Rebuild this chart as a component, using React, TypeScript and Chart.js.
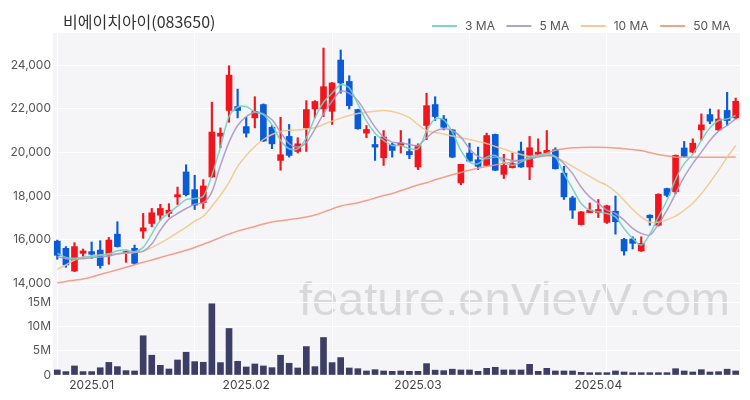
import React, { useEffect, useRef } from 'react';
import { Chart, registerables } from 'chart.js';

Chart.register(...registerables);

const chartTitle = '비에이치아이(083650)';
const watermark = 'feature.enVievV.com';

const dates = [
  '2024-12-24', '2024-12-26', '2024-12-27', '2024-12-30',
  '2025-01-02', '2025-01-03', '2025-01-06', '2025-01-07', '2025-01-08', '2025-01-09', '2025-01-10',
  '2025-01-13', '2025-01-14', '2025-01-15', '2025-01-16', '2025-01-17', '2025-01-20', '2025-01-21',
  '2025-01-22', '2025-01-23', '2025-01-24', '2025-01-31',
  '2025-02-03', '2025-02-04', '2025-02-05', '2025-02-06', '2025-02-07', '2025-02-10', '2025-02-11',
  '2025-02-12', '2025-02-13', '2025-02-14', '2025-02-17', '2025-02-18', '2025-02-19', '2025-02-20',
  '2025-02-21', '2025-02-24', '2025-02-25', '2025-02-26', '2025-02-27', '2025-02-28',
  '2025-03-03', '2025-03-04', '2025-03-05', '2025-03-06', '2025-03-07', '2025-03-10', '2025-03-11',
  '2025-03-12', '2025-03-13', '2025-03-14', '2025-03-17', '2025-03-18', '2025-03-19', '2025-03-20',
  '2025-03-21', '2025-03-24', '2025-03-25', '2025-03-26', '2025-03-27', '2025-03-28', '2025-03-31',
  '2025-04-01', '2025-04-02', '2025-04-03', '2025-04-04', '2025-04-07', '2025-04-08', '2025-04-09',
  '2025-04-10', '2025-04-11', '2025-04-14', '2025-04-15', '2025-04-16', '2025-04-17', '2025-04-18',
  '2025-04-21', '2025-04-22', '2025-04-23',
];

const opens = [
  15930, 15600, 14560, 15370, 15450, 15520, 15290, 16250, 15370, 15600,
  16390, 16740, 17120, 17200, 17960, 19100, 18290, 17700, 18870, 20740,
  21920, 22100, 21180, 21580, 22190, 21150, 19630, 20730, 20040, 21120,
  21990, 21990, 21880, 24230, 23250, 21960, 20880, 20360, 19750, 20350,
  20320, 20040, 19330, 21230, 22190, 21530, 21030, 18600, 19970, 19660,
  19400, 20820, 18990, 19300, 20060, 19330, 19910, 19970, 20120, 19050,
  17910, 16690, 17240, 17230, 16790, 17300, 16010, 16030, 15480, 17120,
  16660, 18340, 18190, 20200, 20010, 21030, 21730, 21030, 21920, 21580,
];
const highs = [
  15980, 15680, 15860, 15570, 15890, 15950, 16100, 16820, 15480, 15750,
  17200, 17430, 17620, 17650, 18410, 19430, 18950, 18750, 22300, 21120,
  23970, 22900, 21610, 22550, 22220, 21230, 21610, 21280, 20670, 22370,
  22370, 24780, 23200, 24690, 23510, 21980, 21230, 20730, 21000, 20420,
  21000, 20620, 20390, 22710, 22550, 21690, 21050, 19450, 20420, 20240,
  20880, 20840, 19910, 19970, 20470, 20730, 20620, 21000, 20210, 19360,
  17990, 17290, 17680, 17840, 17580, 18000, 16060, 16130, 16130, 17140,
  18100, 18360, 19880, 20500, 20620, 21760, 21990, 21950, 22750, 22490,
];
const lows = [
  15100, 14730, 14530, 15140, 15140, 14690, 14870, 15660, 14960, 14870,
  16060, 16590, 16890, 17040, 17610, 18000, 17380, 17430, 18850, 20210,
  21380, 21580, 20700, 21120, 20500, 20170, 19180, 19780, 19970, 20040,
  21580, 21640, 21280, 22710, 21990, 21060, 20670, 19630, 19400, 19780,
  19970, 19710, 19210, 20580, 21460, 21030, 19750, 18520, 19580, 19210,
  19380, 19160, 18800, 19280, 19310, 18750, 19860, 19950, 19230, 17840,
  16970, 16670, 17230, 17010, 16740, 16250, 15290, 15570, 15460, 16660,
  16620, 17960, 18110, 19780, 19970, 20550, 21310, 21000, 21230, 21530,
];
const closes = [
  15280, 14840, 15680, 15480, 15330, 14810, 15980, 15680, 15450, 14910,
  16540, 17230, 17430, 17350, 18060, 18060, 17580, 18460, 20930, 20880,
  23540, 21920, 20880, 21880, 20520, 20390, 19890, 19860, 20390, 21960,
  22330, 23010, 23180, 23180, 22140, 21080, 21050, 20240, 20700, 20090,
  20420, 19890, 20320, 22140, 21640, 21150, 19780, 19450, 19600, 19360,
  20770, 19180, 19400, 19480, 19330, 20210, 20010, 20090, 19250, 17960,
  17350, 17270, 17350, 17380, 17550, 16820, 15480, 15830, 15830, 17000,
  18080, 18030, 19860, 19820, 20420, 21260, 21430, 21530, 21460, 22340,
];

// volume, in millions of shares
const volumes = [
  1.04, 0.7, 1.87, 0.7, 0.7, 1.5, 2.6, 1.73, 0.9, 0.83,
  8.1, 4.08, 2.0, 1.24, 3.1, 4.7, 2.76, 2.63, 14.7, 2.56,
  9.6, 2.83, 1.66, 2.28, 1.87, 1.52, 4.08, 2.42, 1.45, 5.87,
  1.73, 7.74, 2.56, 3.6, 1.45, 1.3, 0.83, 1.1, 0.83, 0.76,
  0.83, 0.76, 0.76, 2.35, 1.0, 0.9, 1.2, 1.04, 1.04, 0.76,
  1.38, 1.59, 1.04, 1.04, 1.04, 2.2, 0.76, 1.38, 0.83, 0.83,
  0.83, 0.55, 0.48, 0.48, 0.48, 0.83, 0.62, 0.48, 0.48, 0.48,
  0.48, 0.48, 1.3, 0.83, 0.62, 1.1, 0.62, 0.69, 1.2, 0.83,
];

const ma3 = [
  15370, 15187, 15142, 15187, 15218, 15279, 15340, 15492, 15522, 15447,
  15644, 16253, 16892, 17227, 17531, 17836, 17882, 17988, 18947, 20241,
  21641, 22067, 22098, 21854, 21732, 21260, 20545, 20164, 20164, 20667,
  21580, 22295, 22706, 23102, 22950, 22219, 21428, 20880, 20545, 20317,
  20317, 20180, 20164, 20971, 21534, 21489, 20926, 20088, 19556, 19480,
  19784, 19860, 19556, 19404, 19556, 19784, 19860, 19936, 19784, 19023,
  18338, 17653, 17349, 17273, 17197, 17044, 16512, 16055, 15751, 16253,
  17044, 17805, 18764, 19480, 19906, 20545, 21123, 21458, 21534, 21686,
];
const ma5 = [
  15218, 15127, 15096, 15127, 15172, 15203, 15249, 15340, 15401, 15431,
  15462, 15796, 16436, 16938, 17197, 17425, 17623, 17684, 18186, 19404,
  20469, 21230, 21641, 21839, 21763, 21489, 20926, 20393, 20241, 20454,
  21063, 21763, 22341, 22798, 22706, 22371, 21763, 21154, 20697, 20469,
  20438, 20362, 20317, 20667, 20971, 21078, 21002, 20697, 20164, 19815,
  19708, 19784, 19708, 19632, 19632, 19693, 19784, 19845, 19815, 19480,
  19023, 18414, 17958, 17653, 17349, 17197, 16892, 16512, 16283, 16207,
  16710, 17349, 18110, 18871, 19480, 20012, 20545, 20971, 21230, 21534,
];
const ma10 = [
  14639, 14836, 15064, 15201, 15247, 15292, 15338, 15352, 15370, 15406,
  15475, 15635, 15840, 16068, 16320, 16571, 16845, 17073, 17530, 18032,
  18625, 19356, 19858, 20269, 20589, 20817, 20954, 21009, 21027, 21068,
  21137, 21274, 21433, 21570, 21685, 21776, 21835, 21881, 21913, 21867,
  21762, 21593, 21274, 21000, 20908, 20840, 20749, 20667, 20589, 20497,
  20406, 20269, 20155, 20018, 19904, 19813, 19858, 19904, 19790, 19584,
  19356, 19128, 18899, 18671, 18488, 18192, 17803, 17393, 17041, 16799,
  16799, 16913, 17073, 17347, 17667, 18100, 18625, 19173, 19767, 20315,
];
const ma50 = [
  14010, 14080, 14140, 14200, 14290, 14400, 14510, 14620, 14730, 14850,
  14960, 15070, 15180, 15290, 15400, 15510, 15640, 15790, 15940, 16100,
  16250, 16390, 16500, 16600, 16720, 16810, 16870, 16920, 16970, 17040,
  17130, 17260, 17410, 17540, 17620, 17690, 17790, 17910, 18020, 18110,
  18250, 18380, 18500, 18610, 18740, 18860, 18970, 19080, 19180, 19270,
  19350, 19420, 19500, 19570, 19640, 19730, 19830, 19960, 20100, 20170,
  20210, 20225, 20230, 20230, 20220, 20200, 20170, 20130, 20080, 19990,
  19900, 19840, 19780, 19770, 19770, 19770, 19770, 19775, 19780, 19790,
];

const priceTicks = [14000, 16000, 18000, 20000, 22000, 24000];
const volumeTicks = [0, 5, 10, 15];

const UP = '#f2151d';
const DOWN = '#0a5bd8';
const VOL = '#3d3e66';
const MA_STYLES = [
  { label: '3 MA', data: ma3, color: 'rgba(110,208,196,0.9)' },
  { label: '5 MA', data: ma5, color: 'rgba(170,150,200,0.9)' },
  { label: '10 MA', data: ma10, color: 'rgba(242,200,140,0.9)' },
  { label: '50 MA', data: ma50, color: 'rgba(244,150,128,0.9)' },
];

const FONT = 'Inter, "Noto Sans CJK KR", "Noto Sans", sans-serif';

const isUp = (i: number) => closes[i] >= opens[i];

const decorPlugin = {
  id: 'decor',
  beforeDraw(chart: any) {
    const { ctx, chartArea: a } = chart;
    ctx.save();
    ctx.fillStyle = '#f5f5f7';
    ctx.fillRect(a.left, a.top, a.right - a.left, a.bottom - a.top);
    ctx.font = '47px "Liberation Sans", Arial, sans-serif';
    ctx.fillStyle = '#d8d8d8';
    ctx.textAlign = 'right';
    ctx.textBaseline = 'alphabetic';
    ctx.fillText(watermark, a.right - 10, 315);
    ctx.restore();
  },
  afterDraw(chart: any) {
    const { ctx } = chart;
    ctx.save();
    ctx.font = '16px "Noto Sans CJK KR", sans-serif';
    ctx.fillStyle = '#333333';
    ctx.textAlign = 'left';
    ctx.textBaseline = 'middle';
    ctx.fillText(chartTitle, 63, 22);

    ctx.font = '12px ' + FONT;
    let x = 432;
    const y = 26;
    MA_STYLES.forEach((m) => {
      ctx.strokeStyle = m.color;
      ctx.lineWidth = 2;
      ctx.beginPath();
      ctx.moveTo(x, y);
      ctx.lineTo(x + 25, y);
      ctx.stroke();
      ctx.fillStyle = '#555555';
      ctx.fillText(m.label, x + 33, y);
      x = x + 33 + ctx.measureText(m.label).width + 11.5;
    });
    ctx.restore();
  },
};

export default function App() {
  const canvasRef = useRef<HTMLCanvasElement | null>(null);

  useEffect(() => {
    if (!canvasRef.current) return;
    const lineSets = MA_STYLES.map((m) => ({
      type: 'line' as const,
      label: m.label,
      data: m.data,
      borderColor: m.color,
      borderWidth: 1.5,
      pointRadius: 0,
      tension: 0.3,
      yAxisID: 'y',
      order: 0,
    }));
    const chart = new Chart(canvasRef.current, {
      type: 'bar',
      data: {
        labels: dates,
        datasets: [
          ...lineSets,
          {
            type: 'bar',
            label: 'wick',
            data: lows.map((l, i) => [l, highs[i]]),
            backgroundColor: (c: any) => (isUp(c.dataIndex) ? UP : DOWN),
            barThickness: 1.5,
            grouped: false,
            yAxisID: 'y',
            order: 2,
          },
          {
            type: 'bar',
            label: 'body',
            data: opens.map((o, i) => [o, closes[i]]),
            backgroundColor: (c: any) => (isUp(c.dataIndex) ? UP : DOWN),
            barThickness: 6,
            grouped: false,
            yAxisID: 'y',
            order: 2,
          },
          {
            type: 'bar',
            label: 'volume',
            data: volumes,
            backgroundColor: VOL,
            barThickness: 6,
            grouped: false,
            yAxisID: 'yv',
            order: 2,
          },
        ] as any,
      },
      options: {
        animation: false,
        responsive: true,
        maintainAspectRatio: false,
        layout: { padding: { top: 33, right: 10, left: 0, bottom: 0 } },
        plugins: {
          legend: { display: false },
          title: { display: false },
          tooltip: { enabled: false },
        },
        scales: {
          x: {
            type: 'category',
            offset: true,
            border: { display: false },
            grid: {
              offset: false,
              drawTicks: false,
              color: (c: any) => (c.index % 16 === 0 ? '#ffffff' : 'rgba(0,0,0,0)'),
            },
            ticks: {
              autoSkip: false,
              maxRotation: 0,
              minRotation: 0,
              padding: 3,
              color: '#444444',
              font: { family: FONT, size: 12 },
              callback: (_v: any, i: number) => {
                if (i === 0) return '';
                const cur = dates[i].slice(0, 7);
                const prev = dates[i - 1].slice(0, 7);
                return cur !== prev ? cur.replace('-', '.') : '';
              },
            },
            afterFit: (s: any) => {
              s.height = 25;
            },
          },
          yv: {
            type: 'linear',
            position: 'left',
            stack: 'main',
            stackWeight: 78,
            min: 0,
            max: 16.1,
            border: { display: false },
            grid: { color: '#ffffff', drawTicks: false },
            afterBuildTicks: (s: any) => {
              s.ticks = volumeTicks.map((v) => ({ value: v }));
            },
            ticks: {
              autoSkip: false,
              padding: 2,
              color: '#555555',
              font: { family: FONT, size: 12 },
              callback: (v: any) => (v === 0 ? '0' : v + 'M'),
            },
            afterFit: (s: any) => {
              s.width = 53;
            },
          },
          y: {
            type: 'linear',
            position: 'left',
            stack: 'main',
            stackWeight: 264,
            min: 13370,
            max: 25470,
            border: { display: false },
            grid: { color: '#ffffff', drawTicks: false },
            afterBuildTicks: (s: any) => {
              s.ticks = priceTicks.map((v) => ({ value: v }));
            },
            ticks: {
              autoSkip: false,
              padding: 2,
              color: '#555555',
              font: { family: FONT, size: 12 },
              callback: (v: any) => Number(v).toLocaleString('en-US'),
            },
            afterFit: (s: any) => {
              s.width = 53;
            },
          },
        },
      } as any,
      plugins: [decorPlugin],
    });
    return () => chart.destroy();
  }, []);

  return (
    <div style={{ position: 'fixed', left: 0, top: 0, width: 750, height: 400 }}>
      <canvas ref={canvasRef} />
    </div>
  );
}
